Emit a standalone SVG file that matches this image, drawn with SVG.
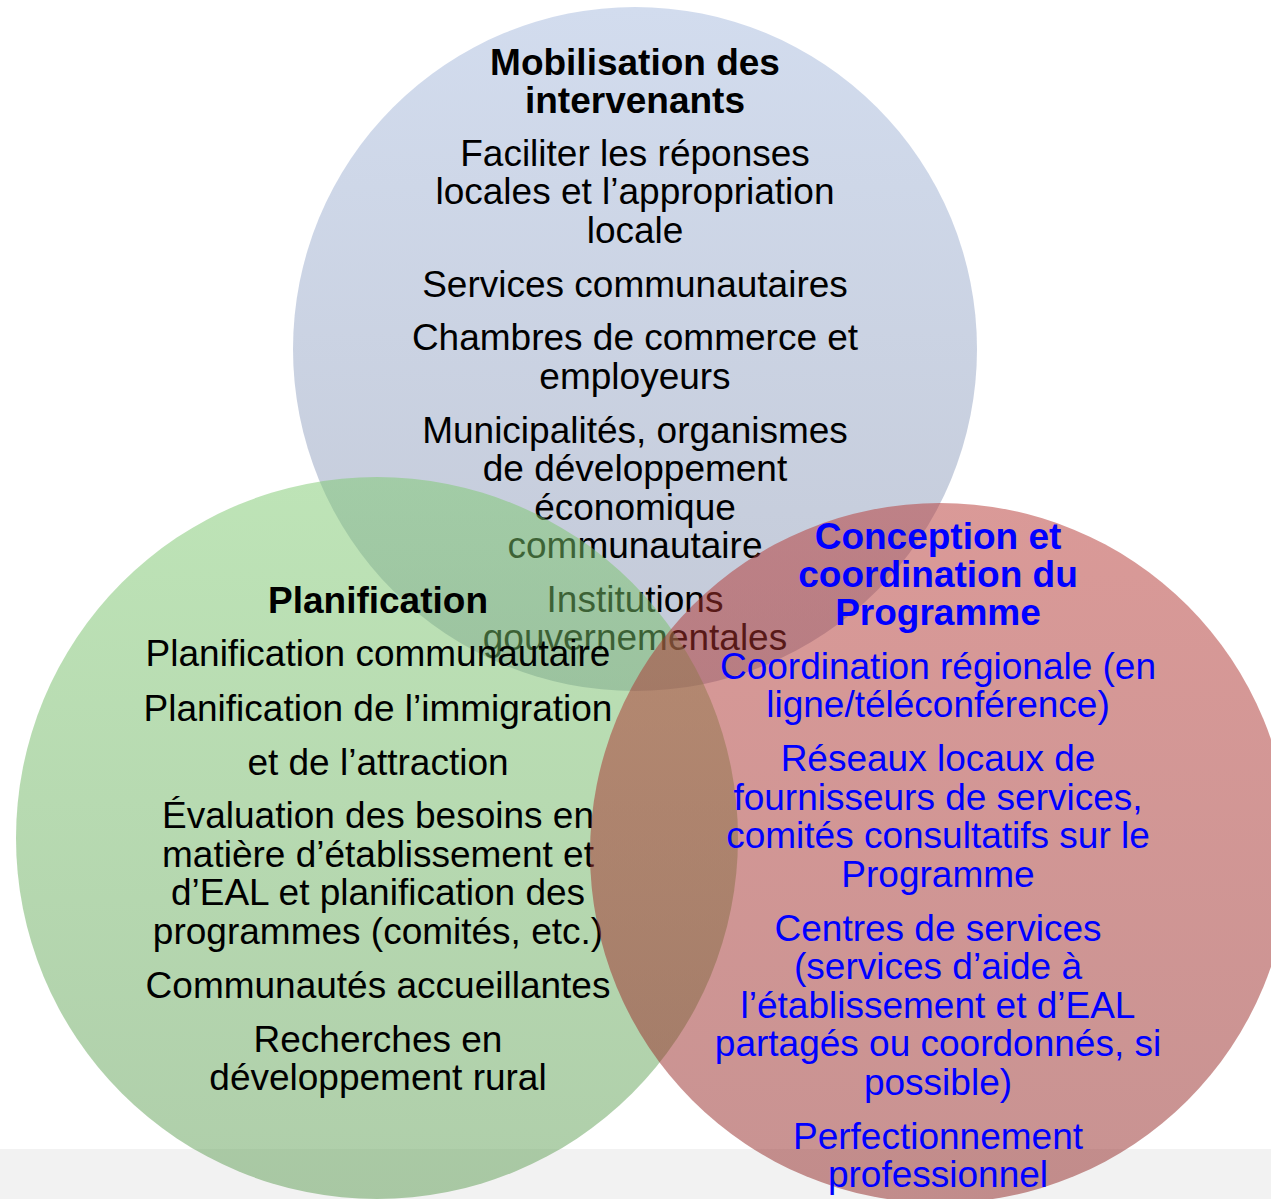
<svg xmlns="http://www.w3.org/2000/svg" width="1271" height="1199" viewBox="0 0 1271 1199">
<defs>
<linearGradient id="gBlue" x1="0" y1="0" x2="0" y2="1">
<stop offset="0" stop-color="#d2dcee"/>
<stop offset="1" stop-color="#c3c9d7"/>
</linearGradient>
<linearGradient id="gGreen" x1="0" y1="0" x2="0" y2="1">
<stop offset="0" stop-color="#7dc96f"/>
<stop offset="1" stop-color="#5f9d55"/>
</linearGradient>
<linearGradient id="gRed" x1="0" y1="0" x2="0" y2="1">
<stop offset="0" stop-color="#b53531"/>
<stop offset="1" stop-color="#912725"/>
</linearGradient>
</defs>
<style>
text{font-family:"Liberation Sans",Arial,sans-serif;font-size:37px;text-anchor:middle;fill:#000}
.t{font-weight:bold}
.bl{fill:#0000ff}
</style>
<rect x="0" y="1149" width="1271" height="50" fill="#f2f2f2"/>
<g id="mobilisation" transform="translate(0,1.5)">
<circle cx="635" cy="347.5" r="342" fill="url(#gBlue)"/>
<text x="635" y="73" class="t">Mobilisation des</text>
<text x="635" y="111" class="t">intervenants</text>
<text x="635" y="164">Faciliter les réponses</text>
<text x="635" y="202">locales et l’appropriation</text>
<text x="635" y="241">locale</text>
<text x="635" y="295">Services communautaires</text>
<text x="635" y="348">Chambres de commerce et</text>
<text x="635" y="387">employeurs</text>
<text x="635" y="441">Municipalités, organismes</text>
<text x="635" y="479">de développement</text>
<text x="635" y="518">économique</text>
<text x="635" y="556">communautaire</text>
<text x="635" y="610">Institutions</text>
<text x="635" y="648">gouvernementales</text>
</g>
<g id="planification" transform="translate(0,1.5)">
<circle cx="377" cy="836.5" r="361" fill="url(#gGreen)" fill-opacity="0.5"/>
<text x="378" y="611" class="t">Planification</text>
<text x="378" y="664">Planification communautaire</text>
<text x="378" y="719">Planification de l’immigration</text>
<text x="378" y="773">et de l’attraction</text>
<text x="378" y="826">Évaluation des besoins en</text>
<text x="378" y="865">matière d’établissement et</text>
<text x="378" y="903">d’EAL et planification des</text>
<text x="378" y="942">programmes (comités, etc.)</text>
<text x="378" y="996">Communautés accueillantes</text>
<text x="378" y="1050">Recherches en</text>
<text x="378" y="1088">développement rural</text>
</g>
<g id="conception" transform="translate(0,1.5)">
<circle cx="940" cy="851.5" r="350" fill="url(#gRed)" fill-opacity="0.5"/>
<text x="938" y="547" class="t bl">Conception et</text>
<text x="938" y="585" class="t bl">coordination du</text>
<text x="938" y="623" class="t bl">Programme</text>
<text x="938" y="677" class="bl">Coordination régionale (en</text>
<text x="938" y="715" class="bl">ligne/téléconférence)</text>
<text x="938" y="769" class="bl">Réseaux locaux de</text>
<text x="938" y="808" class="bl">fournisseurs de services,</text>
<text x="938" y="846" class="bl">comités consultatifs sur le</text>
<text x="938" y="885" class="bl">Programme</text>
<text x="938" y="939" class="bl">Centres de services</text>
<text x="938" y="977" class="bl">(services d’aide à</text>
<text x="938" y="1016" class="bl">l’établissement et d’EAL</text>
<text x="938" y="1054" class="bl">partagés ou coordonnés, si</text>
<text x="938" y="1093" class="bl">possible)</text>
<text x="938" y="1147" class="bl">Perfectionnement</text>
<text x="938" y="1185" class="bl">professionnel</text>
</g>
<g id="connectors"/>
</svg>
